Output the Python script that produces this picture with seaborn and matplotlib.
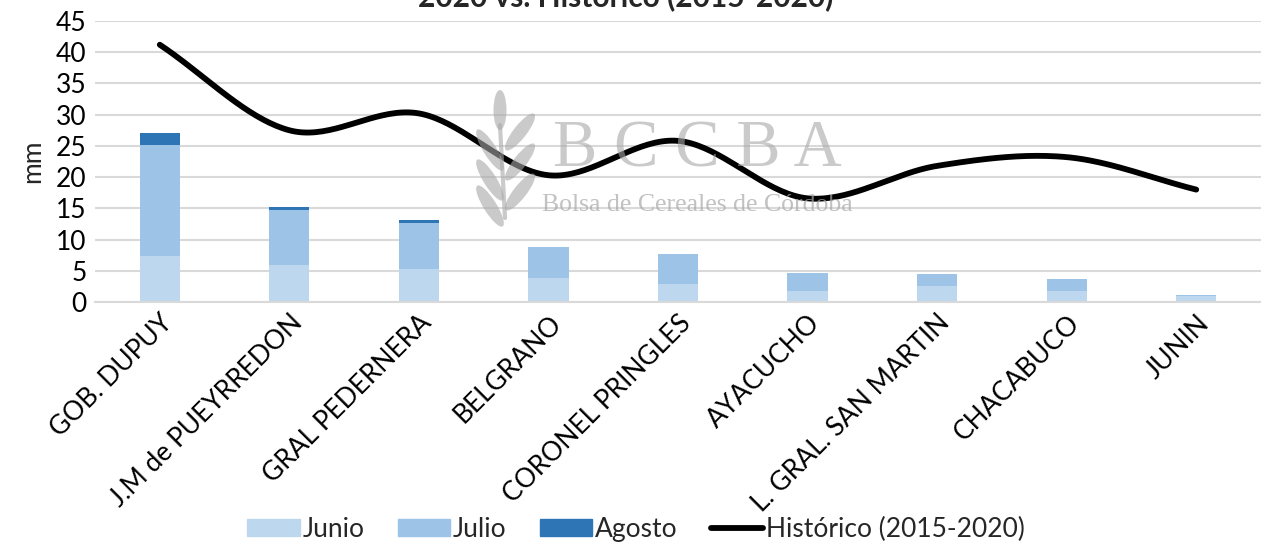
import numpy as np
import pandas as pd
import matplotlib
matplotlib.use("Agg")
import matplotlib.pyplot as plt
import seaborn as sns
from matplotlib.patches import Patch, Ellipse
from matplotlib.lines import Line2D

categorias = ["GOB. DUPUY", "J.M de PUEYRREDON", "GRAL PEDERNERA", "BELGRANO",
              "CORONEL PRINGLES", "AYACUCHO", "L. GRAL. SAN MARTIN", "CHACABUCO", "JUNIN"]
junio = [7.4, 6.0, 5.3, 3.9, 2.9, 1.8, 2.5, 1.8, 1.0]
julio = [17.8, 8.7, 7.4, 4.9, 4.8, 2.8, 2.0, 1.9, 0.2]
agosto = [1.8, 0.5, 0.4, 0.0, 0.0, 0.0, 0.0, 0.0, 0.0]
historico = [41.2, 27.5, 30.2, 20.3, 25.8, 16.6, 21.8, 23.2, 18.0]
yticks = [0, 5, 10, 15, 20, 25, 30, 35, 40, 45]

c_jun, c_jul, c_ago = "#BDD7EE", "#9DC3E6", "#2E75B6"
FS = 19

sns.set_theme(style="white")
plt.rcParams["font.family"] = ["Lato", "DejaVu Sans"]

W, H = 1261, 542
fig = plt.figure(figsize=(W/100, H/100), dpi=100)
ax = fig.add_axes([95/W, 1-302/H, 1-95/W, (302-21)/H])

df = pd.DataFrame({"cat": categorias, "jun": junio, "jul": julio, "ago": agosto})
df["t1"] = df["jun"]
df["t2"] = df["jun"] + df["jul"]
df["t3"] = df["t2"] + df["ago"]

for col, color in [("t3", c_ago), ("t2", c_jul), ("t1", c_jun)]:
    sns.barplot(data=df, x="cat", y=col, color=color, width=0.31, ax=ax,
                saturation=1, edgecolor="none", linewidth=0, zorder=2)

# Smoothed line (Catmull-Rom through the data points, like Excel smoothing)
xs = np.arange(len(historico), dtype=float)
ys = np.array(historico, dtype=float)
px = np.concatenate([[2*xs[0]-xs[1]], xs, [2*xs[-1]-xs[-2]]])
py = np.concatenate([[2*ys[0]-ys[1]], ys, [2*ys[-1]-ys[-2]]])
sx, sy = [], []
for i in range(1, len(px)-2):
    p0, p1, p2, p3 = [np.array([px[j], py[j]]) for j in (i-1, i, i+1, i+2)]
    for tt in np.linspace(0, 1, 40):
        pt = 0.5*((2*p1) + (-p0+p2)*tt + (2*p0-5*p1+4*p2-p3)*tt**2 + (-p0+3*p1-3*p2+p3)*tt**3)
        sx.append(pt[0]); sy.append(pt[1])
sns.lineplot(x=sx, y=sy, sort=False, color="black", linewidth=4.2, ax=ax, zorder=4,
             solid_capstyle="round")

ax.set_xlim(-0.5, 8.5)
ax.set_ylim(0, 45)
ax.set_yticks(yticks)
ax.set_yticklabels([str(v) for v in yticks], fontsize=FS)
ax.yaxis.grid(True, color="#D9D9D9", linewidth=1.5, zorder=0)
ax.set_axisbelow(True)
for s in ["top", "right", "left"]:
    ax.spines[s].set_visible(False)
ax.spines["bottom"].set_color("#D9D9D9")
ax.spines["bottom"].set_linewidth(1.5)
ax.tick_params(axis="both", length=0, pad=6, colors="black")
ax.set_xlabel("")
ax.set_ylabel("mm", fontsize=FS, labelpad=8)
ax.set_xticks(range(len(categorias)))
ax.set_xticklabels(categorias, rotation=45, ha="right", rotation_mode="anchor", fontsize=FS)

# Watermark (wheat icon + text)
wm = "#A8A8A8"
def E(x, y, w, h, ang):
    fig.patches.append(Ellipse((x, H-y), w, h, angle=ang, transform=None,
                               facecolor=wm, edgecolor="none", alpha=0.6, zorder=1))
E(500, 110, 40, 13, 90)
for yy in (150, 180, 206):
    E(490, yy, 48, 13, -58)
for yy in (132, 162, 192):
    E(520, yy, 46, 13, 52)
fig.lines.append(Line2D([500, 505], [H-125, H-218], transform=None, color=wm,
                        alpha=0.6, linewidth=3))
fig.text(697/W, 1-150/H, "B C C B A", fontsize=48, family="Liberation Serif",
         color=wm, alpha=0.6, ha="center", va="center", zorder=1)
fig.text(697/W, 1-205/H, "Bolsa de Cereales de Córdoba", fontsize=18.5,
         family="Liberation Serif", color=wm, alpha=0.7, ha="center", va="center")

# Title (cut at the top, as in the reference)
fig.text(626/W, 1-6/H, "2020 vs. Histórico (2015-2020)", fontsize=21.5,
         fontweight="bold", ha="center", va="baseline")

handles = [Patch(color=c_jun, label="Junio"), Patch(color=c_jul, label="Julio"),
           Patch(color=c_ago, label="Agosto"),
           Line2D([0], [0], color="black", linewidth=4.2, label="Histórico (2015-2020)")]
fig.legend(handles=handles, loc="center", bbox_to_anchor=(636/W, 1-529/H), ncol=4,
           frameon=False, fontsize=FS, handlelength=2.0, handleheight=0.6,
           columnspacing=1.25, handletextpad=0.1, borderpad=0.2)

fig.savefig("out.png", dpi=100)
